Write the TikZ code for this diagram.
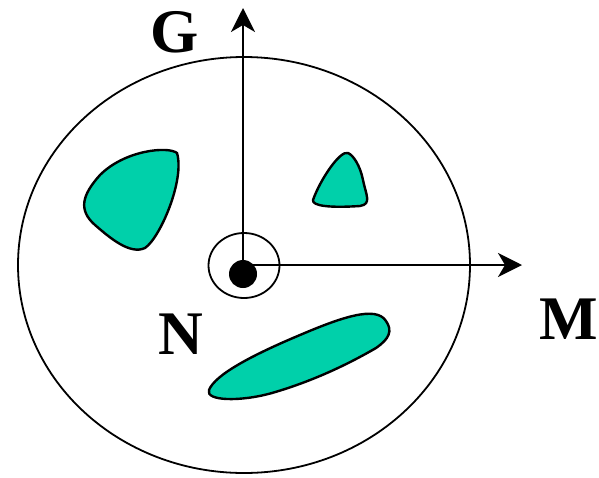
\documentclass[tikz,border=0pt]{standalone}
\usepackage{fontspec}
\setmainfont{Liberation Serif}
\usetikzlibrary{arrows.meta,shapes.geometric}
\definecolor{blob}{RGB}{0,208,170}
\tikzset{
  blobstyle/.style={fill=blob, draw=black, line width=2.4pt},
  axis/.style={line width=2pt, -{Stealth[length=24pt,width=24pt,inset=7pt]}},
  lbl/.style={font=\fontsize{62}{62}\selectfont\bfseries, inner sep=0pt}
}
\begin{document}
\begin{tikzpicture}[x=1pt,y=-1pt]
\useasboundingbox (0,0) rectangle (599,477);
% big ellipse
\draw[line width=1.8pt] (244,265) ellipse [x radius=226, y radius=208];
% blobs
\draw[blobstyle] (177,153) .. controls (168,146) and (125,150) .. (100,175)
  .. controls (82,195) and (78,210) .. (95,225)
  .. controls (110,238) and (130,255) .. (145,248)
  .. controls (160,238) and (185,180) .. (177,153) -- cycle;
\draw[blobstyle] (348,153) .. controls (340,150) and (320,180) .. (313,200)
  .. controls (312,206) and (330,208) .. (360,206)
  .. controls (372,204) and (366,195) .. (363,180)
  .. controls (360,165) and (353,155) .. (348,153) -- cycle;
\draw[blobstyle] (386,321) .. controls (376,305) and (340,318) .. (300,335)
  .. controls (250,356) and (215,375) .. (209,390)
  .. controls (205,401) and (240,402) .. (272,393)
  .. controls (310,382) and (345,366) .. (376,348)
  .. controls (389,339) and (393,331) .. (386,321) -- cycle;
% center
\node[draw, line width=1.8pt, ellipse, minimum width=71pt, minimum height=65pt, inner sep=0pt] (ring) at (244,265.5) {};
\node[circle, fill=black, minimum size=28pt, inner sep=0pt] (dot) at (243,274) {};
\coordinate (gtip) at (243,8);
\coordinate (mtip) at (522,265);
\draw[axis] (dot.center) -- (gtip);
\draw[axis] (243,265) -- (mtip);
% labels
\node[lbl] (G) at (175,32) {G};
\node[lbl] (N) at (181,334) {N};
\node[lbl] (M) at (569,319) {M};
\end{tikzpicture}
\end{document}
